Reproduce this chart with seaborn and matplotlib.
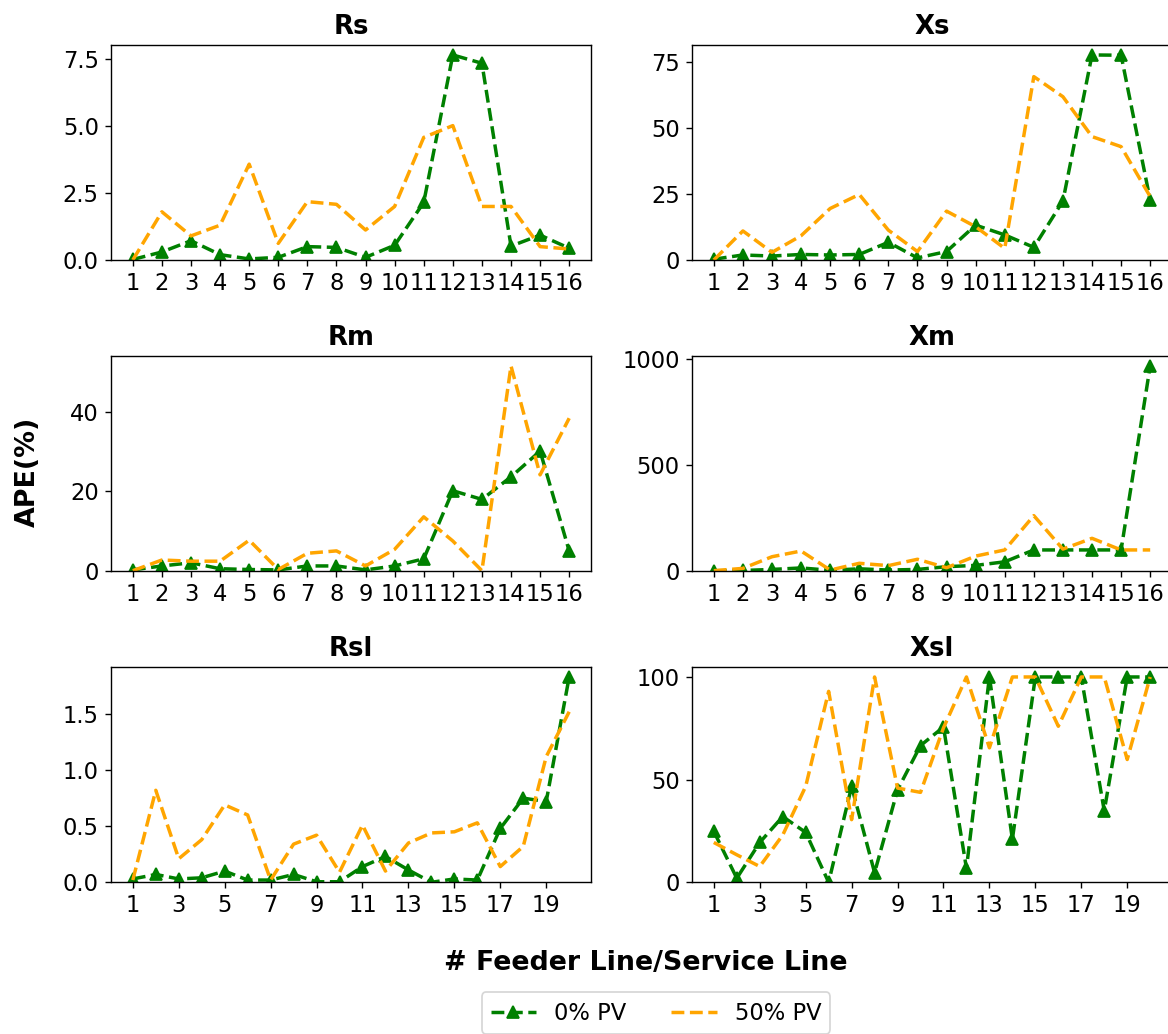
import numpy as np
import pandas as pd
import matplotlib
matplotlib.use("Agg")
import matplotlib.pyplot as plt
import seaborn as sns

# Line indices
lines_16 = list(range(1, 17))
lines_20 = list(range(1, 21))

# APE (%) per parameter, 0% PV and 50% PV penetration
rs_pv0 = [0.02, 0.30, 0.72, 0.20, 0.04, 0.10, 0.50, 0.47, 0.10, 0.55, 2.15, 7.66, 7.35, 0.52, 0.93, 0.44]
rs_pv50 = [0.0, 1.80, 0.90, 1.30, 3.58, 0.62, 2.18, 2.08, 1.12, 2.00, 4.58, 5.02, 2.00, 2.00, 0.50, 0.41]

xs_pv0 = [0.3, 1.9, 1.5, 2.1, 1.9, 2.1, 6.7, 0.8, 3.2, 13.2, 9.5, 4.8, 22.3, 77.6, 77.5, 22.7]
xs_pv50 = [0.0, 11.0, 2.9, 9.2, 19.5, 24.8, 11.3, 3.2, 18.5, 12.6, 4.4, 69.4, 61.8, 46.7, 42.9, 24.0]

rm_pv0 = [0.2, 1.2, 2.0, 0.5, 0.3, 0.2, 1.2, 1.2, 0.2, 1.2, 3.0, 20.2, 18.0, 23.7, 30.2, 5.0]
rm_pv50 = [0.0, 2.7, 2.4, 2.4, 7.7, 0.3, 4.4, 5.0, 1.2, 5.4, 13.6, 7.5, 0.0, 51.7, 24.2, 38.5]

xm_pv0 = [0, 1, 6, 13, 2, 9, 3, 6, 19, 25, 42, 98, 98, 98, 98, 967]
xm_pv50 = [0, 11, 66, 93, 3, 35, 24, 54, 14, 69, 98, 260, 102, 153, 98, 98]

rsl_pv0 = [0.03, 0.07, 0.03, 0.04, 0.10, 0.02, 0.02, 0.07, 0.005, 0.005,
           0.14, 0.23, 0.11, 0.0, 0.03, 0.02, 0.48, 0.75, 0.72, 1.83]
rsl_pv50 = [0.02, 0.82, 0.21, 0.38, 0.69, 0.60, 0.02, 0.34, 0.42, 0.09,
            0.51, 0.10, 0.35, 0.44, 0.45, 0.53, 0.14, 0.32, 1.12, 1.52]

xsl_pv0 = [24.8, 2, 19.4, 32, 24.3, 0, 46.7, 4.7, 45, 66.6,
           75.6, 6.8, 100, 21, 100, 100, 100, 34.8, 100, 100]
xsl_pv50 = [19.4, 13.4, 7.7, 23, 46.7, 93, 30.5, 100, 45.9, 43.8,
            75.2, 100, 65.5, 100, 100, 76, 100, 100, 59.8, 100]

titles = ["Rs", "Xs", "Rm", "Xm", "Rsl", "Xsl"]
panels = [
    (lines_16, rs_pv0, rs_pv50),
    (lines_16, xs_pv0, xs_pv50),
    (lines_16, rm_pv0, rm_pv50),
    (lines_16, xm_pv0, xm_pv50),
    (lines_20, rsl_pv0, rsl_pv50),
    (lines_20, xsl_pv0, xsl_pv50),
]

W, H, DPI = 1168, 1034, 125
fig = plt.figure(figsize=(W / DPI, H / DPI), dpi=DPI)

col_left = [111 / W, 692 / W]
col_width = 480 / W
row_top_bottom = [(44.7, 260.0), (355.7, 570.7), (666.7, 882.3)]

axes = []
for i, (xs, pv0, pv50) in enumerate(panels):
    r, c = divmod(i, 2)
    top, bot = row_top_bottom[r]
    ax = fig.add_axes([col_left[c], 1 - bot / H, col_width, (bot - top) / H])
    df = pd.DataFrame({"line": xs, "pv0": pv0, "pv50": pv50})
    sns.lineplot(data=df, x="line", y="pv0", ax=ax, color="green", marker="^",
                 linestyle="--", linewidth=2, markersize=7,
                 markeredgecolor="green", markeredgewidth=1, label="0% PV")
    sns.lineplot(data=df, x="line", y="pv50", ax=ax, color="orange",
                 linestyle="--", linewidth=2, label="50% PV")
    ax.set_ylim(bottom=0)
    if len(xs) == 16:
        ax.set_xticks(xs)
    else:
        ax.set_xticks(xs[::2])
    ax.set_title(titles[i], fontsize=15, fontweight="bold")
    ax.set_xlabel("")
    ax.set_ylabel("")
    ax.tick_params(labelsize=13)
    ax.get_legend().remove()
    axes.append(ax)

fig.text(28 / W, 1 - 472 / H, "APE(%)", rotation=90, ha="center", va="center",
         fontsize=15.5, fontweight="bold")
fig.text(646 / W, 1 - 963 / H, "# Feeder Line/Service Line", ha="center",
         va="center", fontsize=15.5, fontweight="bold")

handles, labels = axes[0].get_legend_handles_labels()
fig.legend(handles, labels, loc="center", bbox_to_anchor=(656 / W, 1 - 1013 / H),
           ncol=2, fontsize=13, columnspacing=2.0)

fig.savefig("out.png", dpi=DPI)
